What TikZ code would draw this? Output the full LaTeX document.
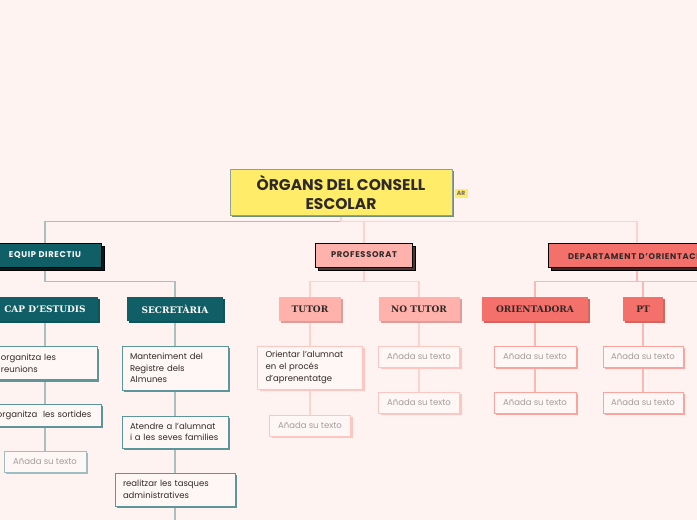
\documentclass[tikz,border=0pt]{standalone}
\usepackage{fontspec}
\setmainfont{Poppins}
\newfontfamily\headfont{DejaVu Serif}
\newfontfamily\capsfont{Poppins}[LetterSpace=8]
\usetikzlibrary{shadows, backgrounds}

\definecolor{cCanvas}{HTML}{FFF3F1}
\definecolor{cYellow}{HTML}{FFEC68}
\definecolor{cRootEdge}{HTML}{8CA394}
\definecolor{cRootShadow}{HTML}{6F8F7B}
\definecolor{cInk}{HTML}{2E2A2A}
\definecolor{cGrey}{HTML}{A39C9C}
\definecolor{cTeal}{HTML}{105F67}
\definecolor{cTealLine}{HTML}{A9C0C1}
\definecolor{cTealEdge}{HTML}{5E9599}
\definecolor{cPink}{HTML}{FFB1AB}
\definecolor{cPinkLine}{HTML}{FFD2CD}
\definecolor{cPinkEdge}{HTML}{FFC6C1}
\definecolor{cCoral}{HTML}{F4716B}
\definecolor{cCoralLine}{HTML}{F9BAB4}
\definecolor{cCoralEdge}{HTML}{FCA39D}
\definecolor{cLeaf}{HTML}{FFF7F5}

\begin{document}
\begin{tikzpicture}[x=1pt, y=-1pt,
    every node/.style={inner sep=0pt, align=center},
    central/.style={fill=cYellow, draw=cRootEdge, line width=0.6pt, minimum width=222pt, minimum height=46pt,
        font=\bfseries\fontsize{15.5}{19}\selectfont, text=cInk,
        drop shadow={shadow xshift=2pt, shadow yshift=-2pt, fill=cRootShadow, opacity=1}},
    mainbox/.style={fill=#1, draw=black, line width=0.8pt, minimum height=24pt,
        font=\capsfont\bfseries\fontsize{8.3}{9}\selectfont,
        drop shadow={shadow xshift=3pt, shadow yshift=-3pt, fill=black!70!#1, draw=black, line width=0.8pt, opacity=1}},
    subtitle/.style={fill=#1, minimum height=24pt, font=\headfont\bfseries\fontsize{9}{10}\selectfont,
        drop shadow={shadow xshift=2pt, shadow yshift=-2pt, fill=black!12!#1, opacity=1}},
    leaf/.style={fill=cLeaf, draw=#1, line width=0.7pt, inner xsep=8pt, align=left, text=cInk,
        font=\fontsize{8.5}{11.7}\selectfont,
        drop shadow={shadow xshift=2pt, shadow yshift=-2pt, fill=#1, opacity=1}},
    blank/.style={leaf=#1, align=center, text=cGrey, minimum height=21pt},
    link/.style={draw=#1, line width=1.2pt}
]
\useasboundingbox (0,0) rectangle (697,520);

% ============ CENTRAL TOPIC ============
\node[central] (root) at (341,192) {ÒRGANS DEL CONSELL\\ESCOLAR};
\node[fill=cYellow, minimum width=13pt, minimum height=9pt, text=cGrey!70!black,
      font=\bfseries\fontsize{6}{7}\selectfont] (tag) at (461,193.5) {AR};

% ============ EQUIP DIRECTIU ============
\node[mainbox=cTeal, text=white, minimum width=112pt] (equip) at (45,255) {EQUIP DIRECTIU};

\node[subtitle=cTeal, text=white, minimum width=106pt] (cap) at (45,309) {CAP D’ESTUDIS};
\node[subtitle=cTeal, text=white, minimum width=96pt] (secr) at (175,309) {SECRETÀRIA};

\node[leaf=cTealEdge, text width=88pt, minimum height=33pt] (reun) at (45,363) {organitza les\\reunions};
\node[leaf=cTealEdge, text width=96pt, minimum height=22pt] (sort) at (45,415) {organitza~ les sortides};
\node[blank=cTealEdge!60, minimum width=82pt] (addA) at (45,461.5) {Añada su texto};

\node[leaf=cTealEdge, text width=90pt, minimum height=44pt] (mant) at (175,368) {Manteniment del\\Registre dels\\Almunes};
\node[leaf=cTealEdge, text width=90pt, minimum height=32pt] (atend) at (175,432) {Atendre a l’alumnat\\i a les seves families};
\node[leaf=cTealEdge, text width=104pt, minimum height=33pt] (realitz) at (175,489.5) {realitzar les tasques\\administratives};

% ============ PROFESSORAT ============
\node[mainbox=cPink, text=cInk, minimum width=97pt] (prof) at (364,255) {PROFESSORAT};

\node[subtitle=cPink, text=cInk, minimum width=62pt] (tutor) at (310,309) {TUTOR};
\node[subtitle=cPink, text=cInk, minimum width=81pt] (notutor) at (419,309) {NO TUTOR};

\node[leaf=cPinkEdge, text width=89pt, minimum height=43pt] (orient) at (310,367.5) {Orientar l’alumnat\\en el procés\\d’aprenentatge};
\node[blank=cPinkEdge, minimum width=81pt] (addT) at (310,425.5) {Añada su texto};
\node[blank=cPinkEdge, minimum width=81pt] (addN1) at (419,356.5) {Añada su texto};
\node[blank=cPinkEdge, minimum width=81pt] (addN2) at (419,402.5) {Añada su texto};

% ============ DEPARTAMENT D'ORIENTACIO ============
\node[mainbox=cCoral, text=cInk, minimum width=178pt] (dept) at (637,255) {DEPARTAMENT D’ORIENTACIÓ};

\node[subtitle=cCoral, text=cInk, minimum width=106pt] (orientad) at (535,309) {ORIENTADORA};
\node[subtitle=cCoral, text=cInk, minimum width=40pt] (pt) at (643,309) {PT};

\node[blank=cCoralEdge, minimum width=82pt] (addO1) at (535,356.5) {Añada su texto};
\node[blank=cCoralEdge, minimum width=82pt] (addO2) at (535,402.5) {Añada su texto};
\node[blank=cCoralEdge, minimum width=80pt] (addP1) at (643,356.5) {Añada su texto};
\node[blank=cCoralEdge, minimum width=80pt] (addP2) at (643,402.5) {Añada su texto};

% ============ CONNECTORS ============
\begin{scope}[on background layer]
  \fill[cCanvas] (0,0) rectangle (697,520);
  % central bus
  \draw[link=cTealLine] (root.south) ++(0,6) -| (equip.north);
  \draw[link=cPinkLine] (root.south) -- ++(0,6) -| (prof.north);
  \draw[link=cPinkLine] (root.south) ++(0,6) -| (dept.north);
  % equip directiu
  \draw[link=cTealLine] (equip.south) -- ++(0,14) -| (secr.north);
  \draw[link=cTealLine] (cap) -- (reun) -- (sort) -- (addA);
  \draw[link=cTealLine] (secr) -- (mant) -- (atend) -- (realitz);
  \draw[link=cTealLine] (realitz.south) -- ++(0,20);
  % professorat
  \draw[link=cPinkLine] (prof.south) -- ++(0,14) -| (tutor.north);
  \draw[link=cPinkLine] (prof.south) ++(0,14) -| (notutor.north);
  \draw[link=cPinkLine] (tutor) -- (orient) -- (addT);
  \draw[link=cPinkLine] (notutor) -- (addN1) -- (addN2);
  % departament
  \draw[link=cCoralLine] (dept.south) -- ++(0,14) -| (orientad.north);
  \draw[link=cCoralLine] (dept.south) ++(0,14) -| (pt.north);
  \draw[link=cCoralLine] (dept.south) ++(0,14) -- ++(80,0);
  \draw[link=cCoralLine] (orientad) -- (addO1) -- (addO2);
  \draw[link=cCoralLine] (pt) -- (addP1) -- (addP2);
\end{scope}

\end{tikzpicture}
\end{document}
